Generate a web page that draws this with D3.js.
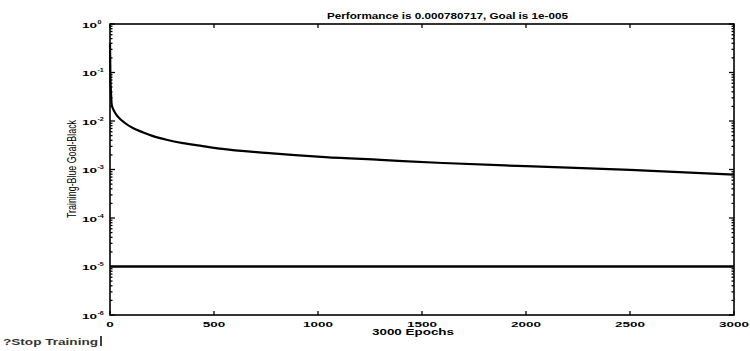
<!DOCTYPE html>
<html>
<head>
<meta charset="utf-8">
<script src="https://cdn.jsdelivr.net/npm/d3@7"></script>
<style>
  body { margin: 0; background: #fff; }
  text { font-family: "Liberation Sans", Arial, sans-serif; font-weight: bold; fill: #000; }
</style>
</head>
<body>
<div id="chart"></div>
<script>
// training record
var epochs = [0, 1, 2, 4, 6, 8, 20, 40, 70, 112, 160, 200, 272, 350, 433, 529, 750, 1034, 1300, 1600, 2000, 2500, 3000];
var perf = [0.4, 0.18, 0.08, 0.045, 0.03, 0.022, 0.016, 0.012, 0.0092, 0.0071, 0.0058, 0.005, 0.0041, 0.0035, 0.0031, 0.0027, 0.0022, 0.0018, 0.00158, 0.00136, 0.00117, 0.00098, 0.000780717];
var goal = 1e-5;
var xTicks = [0, 500, 1000, 1500, 2000, 2500, 3000];
var yExps = [0, -1, -2, -3, -4, -5, -6];

function draw() {
  var W = 750, H = 351;
  var pL = 110, pR = 734, pT = 24, pB = 315;

  var svg = d3.select("#chart").append("svg")
    .attr("width", W).attr("height", H);

  var x = d3.scaleLinear().domain([0, 3000]).range([pL, pR]);
  var y = d3.scaleLog().domain([1e-6, 1]).range([pB, pT]);

  var data = epochs.map(function(e, i) { return { e: e, v: perf[i] }; });

  // minor log ticks
  var minors = [];
  for (var k = -6; k < 0; k++)
    for (var m = 2; m <= 9; m++) minors.push(m * Math.pow(10, k));

  var frame = svg.append("g").attr("stroke", "#000").attr("stroke-width", 1.3);

  minors.forEach(function(v) {
    frame.append("line").attr("x1", pL).attr("x2", pL + 2.5).attr("y1", y(v)).attr("y2", y(v));
    frame.append("line").attr("x1", pR).attr("x2", pR - 2.5).attr("y1", y(v)).attr("y2", y(v));
  });
  yExps.forEach(function(k) {
    var v = Math.pow(10, k);
    frame.append("line").attr("x1", pL).attr("x2", pL + 5).attr("y1", y(v)).attr("y2", y(v));
    frame.append("line").attr("x1", pR).attr("x2", pR - 5).attr("y1", y(v)).attr("y2", y(v));
  });
  xTicks.forEach(function(t) {
    frame.append("line").attr("x1", x(t)).attr("x2", x(t)).attr("y1", pB).attr("y2", pB - 4);
    frame.append("line").attr("x1", x(t)).attr("x2", x(t)).attr("y1", pT).attr("y2", pT + 4);
  });

  frame.append("rect")
    .attr("x", pL).attr("y", pT)
    .attr("width", pR - pL).attr("height", pB - pT)
    .attr("fill", "none").attr("stroke-width", 1.6);

  // goal line
  svg.append("line")
    .attr("x1", x(0)).attr("x2", x(3000))
    .attr("y1", y(goal)).attr("y2", y(goal))
    .attr("stroke", "#000").attr("stroke-width", 2.6);

  // training curve
  var line = d3.line()
    .x(function(d) { return x(d.e); })
    .y(function(d) { return y(d.v); })
    .curve(d3.curveMonotoneX);

  svg.append("path")
    .datum(data)
    .attr("d", line)
    .attr("fill", "none")
    .attr("stroke", "#000")
    .attr("stroke-width", 2.2);

  // x tick labels
  xTicks.forEach(function(t) {
    svg.append("text")
      .attr("transform", "translate(" + x(t) + ",326.5) scale(1.8,1)")
      .attr("text-anchor", "middle")
      .style("font-size", "7.5px")
      .text(t);
  });

  // y tick labels 10^k
  yExps.forEach(function(k) {
    var g = svg.append("g").attr("transform", "translate(97," + (y(Math.pow(10, k)) + 3.5) + ")");
    g.append("text")
      .attr("transform", "scale(1.7,1)")
      .attr("text-anchor", "end")
      .style("font-size", "8px")
      .text("10");
    g.append("text")
      .attr("transform", "translate(0.5,-4) scale(1.3,1)")
      .style("font-size", "5.5px")
      .text(k);
  });

  svg.append("text")
    .attr("x", 327).attr("y", 19)
    .attr("textLength", 241).attr("lengthAdjust", "spacingAndGlyphs")
    .style("font-size", "9.5px")
    .text("Performance is 0.000780717, Goal is 1e-005");

  svg.append("text")
    .attr("x", 372).attr("y", 334.5)
    .attr("textLength", 82).attr("lengthAdjust", "spacingAndGlyphs")
    .style("font-size", "8.5px")
    .text("3000 Epochs");

  svg.append("text")
    .attr("transform", "translate(76,218) rotate(-90)")
    .attr("textLength", 98).attr("lengthAdjust", "spacingAndGlyphs")
    .style("font-size", "12px")
    .style("font-weight", "normal")
    .text("Training-Blue  Goal-Black");

  // stop button remnant
  svg.append("text")
    .attr("x", 3).attr("y", 345)
    .attr("textLength", 95).attr("lengthAdjust", "spacingAndGlyphs")
    .style("font-size", "9px")
    .style("fill", "#333")
    .text("?Stop Training");
  svg.append("line")
    .attr("x1", 101).attr("x2", 101).attr("y1", 336).attr("y2", 346)
    .attr("stroke", "#000").attr("stroke-width", 1.5);
}

draw();
</script>
</body>
</html>
